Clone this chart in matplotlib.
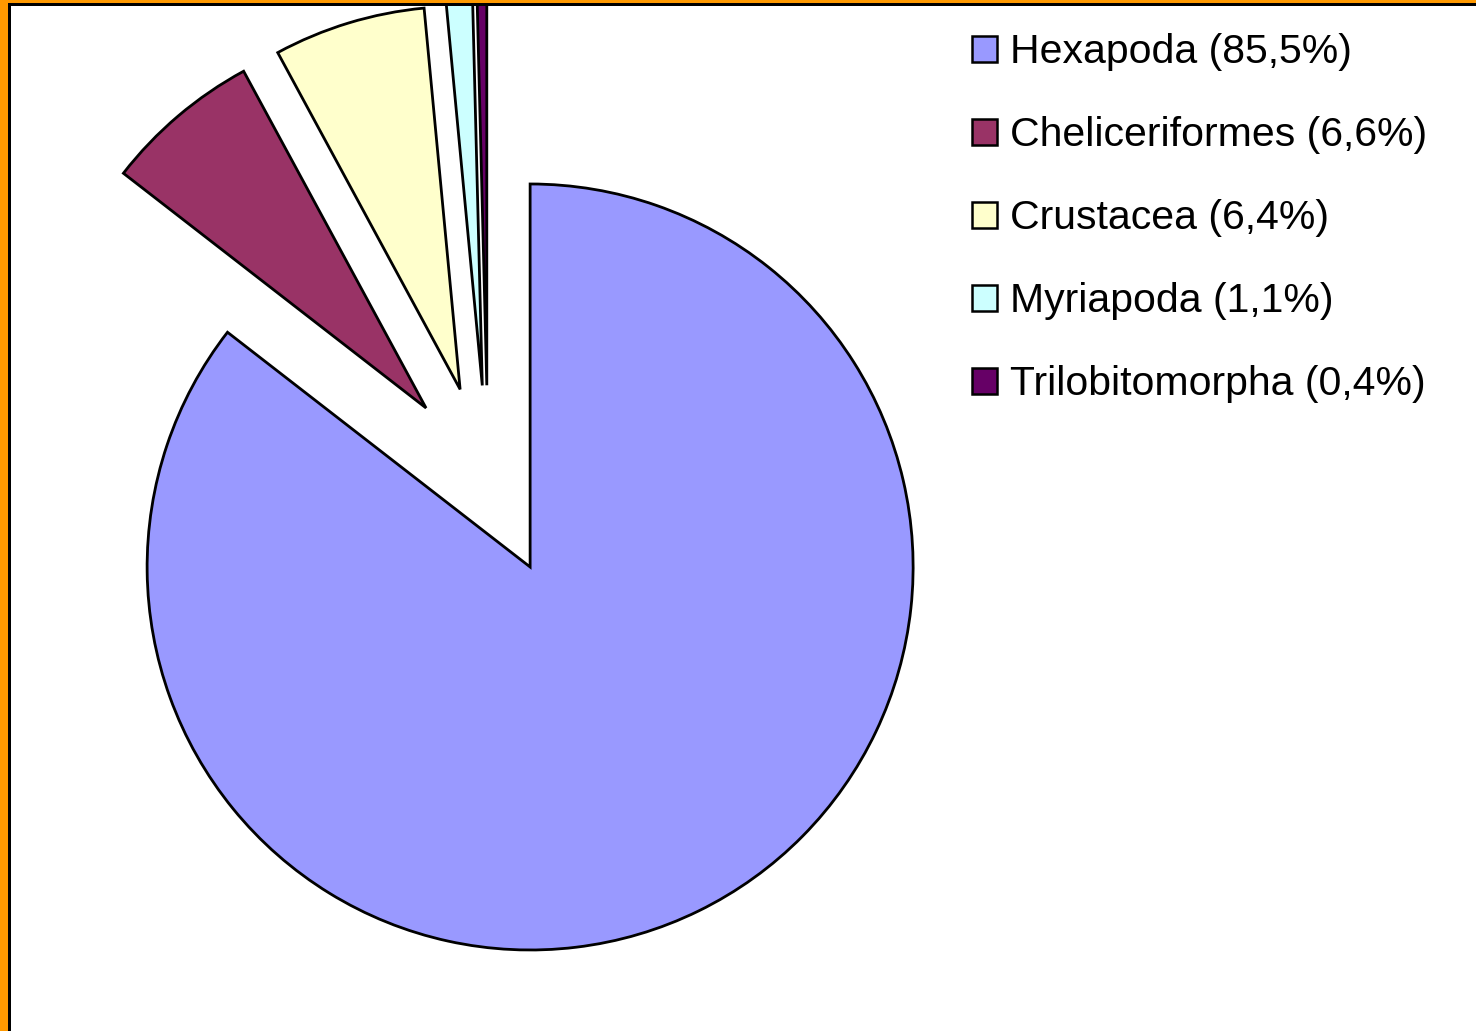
import matplotlib.pyplot as plt
from matplotlib.patches import Rectangle

# dane
groups = ["Hexapoda", "Cheliceriformes", "Crustacea", "Myriapoda", "Trilobitomorpha"]
shares = [85.5, 6.6, 6.4, 1.1, 0.4]
colors = ["#9999FF", "#993366", "#FFFFCC", "#CCFFFF", "#660066"]
labels = [f"{g} ({str(s).replace('.', ',')}%)" for g, s in zip(groups, shares)]

plt.rcParams["font.family"] = ["Liberation Sans", "DejaVu Sans"]

W, H = 1476, 1031
fig = plt.figure(figsize=(W / 100, H / 100), dpi=100)
fig.patch.set_facecolor("white")

ax = fig.add_axes([0, 0, 1, 1])
ax.axis("off")

wedges, _ = ax.pie(shares, colors=colors, startangle=90, counterclock=False,
                   explode=[0.25] * len(shares), radius=1.0,
                   wedgeprops=dict(edgecolor="black", linewidth=2.0))

# srodek kola i promien w pikselach (ustawione po pie, bo pie nadpisuje limity)
cx, cy, r = 488, 481, 383
ax.set_xlim(-cx / r, (W - cx) / r)
ax.set_ylim(-(H - cy) / r, cy / r)
ax.set_aspect("equal")

leg = ax.legend(wedges, labels, loc="upper left",
                bbox_to_anchor=(972 / W, 1 - 33 / H), bbox_transform=fig.transFigure,
                frameon=False, fontsize=29.5, handlelength=0.6, handleheight=0.6,
                handletextpad=0.33, labelspacing=1.1, borderpad=0, borderaxespad=0)
for h in leg.legend_handles:
    h.set_linewidth(1.8)

# ramka: pomaranczowa z czarna linia wewnatrz (tylko gora i lewa strona)
fig.patches.append(Rectangle((0, 0), 8 / W, 1, transform=fig.transFigure,
                             facecolor="#FF9900", edgecolor="none"))
fig.patches.append(Rectangle((0, 1 - 3 / H), 1, 3 / H, transform=fig.transFigure,
                             facecolor="#FF9900", edgecolor="none"))
fig.patches.append(Rectangle((8 / W, 0), 2.5 / W, 1 - 3 / H, transform=fig.transFigure,
                             facecolor="black", edgecolor="none"))
fig.patches.append(Rectangle((8 / W, 1 - 5.5 / H), 1, 2.5 / H, transform=fig.transFigure,
                             facecolor="black", edgecolor="none"))

fig.savefig("out.png", dpi=100)
